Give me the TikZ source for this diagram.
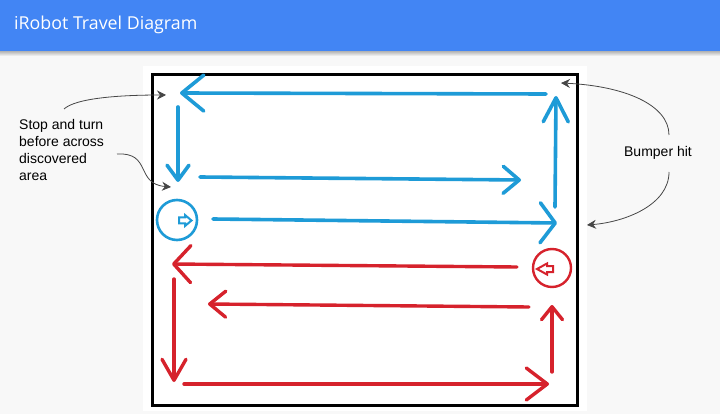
\documentclass[tikz,border=0pt]{standalone}
\usepackage{fontspec}
\setmainfont{Liberation Sans}
\newfontfamily\titlefont{Open Sans}
\usetikzlibrary{arrows.meta}
\definecolor{hdrblue}{RGB}{66,133,244}
\definecolor{pagebg}{RGB}{248,248,248}
\definecolor{pathblue}{RGB}{30,155,215}
\definecolor{pathred}{RGB}{214,34,44}
\definecolor{notegray}{RGB}{70,70,70}
\tikzset{
  bluepath/.style={draw=pathblue,line width=3.6pt,line cap=round,line join=round},
  redpath/.style={draw=pathred,line width=3.4pt,line cap=round,line join=round},
  hd/.style 2 args={-{Straight Barb[round,length=#1,width=#2]}},
  note/.style={draw=notegray,line width=0.8pt,-{Stealth[length=9pt,width=9pt,inset=3pt]}},
  notetext/.style={font=\fontsize{14}{17.2}\selectfont,text=black,align=left,inner sep=0pt},
}
\begin{document}
\begin{tikzpicture}[x=1pt,y=-1pt]
\useasboundingbox (0,0) rectangle (720,414);
\fill[pagebg] (0,0) rectangle (720,414);
% header
\shade[top color=black!30,bottom color=pagebg] (0,51) rectangle (720,56);
\fill[hdrblue] (0,0) rectangle (720,51);
\node[anchor=west,text=white,inner sep=0pt,font=\titlefont\fontsize{17.8}{21}\selectfont] (title) at (14,25) {iRobot Travel Diagram};
% picture area
\fill[white] (143,66) rectangle (587,411);
\draw[line width=3pt] (152.5,75) rectangle (577,405.5);
% blue path
\coordinate (b1s) at (546,94); \coordinate (b1e) at (180,93);
\coordinate (b2s) at (178,107); \coordinate (b2e) at (178,182);
\coordinate (b3s) at (200,177); \coordinate (b3e) at (521,180);
\coordinate (b4s) at (213,219); \coordinate (b4e) at (557,223);
\coordinate (b5s) at (555,207); \coordinate (b5e) at (556,96);
\draw[bluepath,hd={22pt}{36pt}] (b1s) -- (b1e);
\draw[bluepath,hd={15pt}{22pt}] (b2s) -- (b2e);
\draw[bluepath,hd={16pt}{27pt}] (b3s) -- (b3e);
\draw[bluepath,hd={15pt}{40pt}] (b4s) -- (b4e);
\draw[bluepath,hd={24pt}{25pt}] (b5s) -- (b5e);
\node[circle,draw=pathblue,line width=2.6pt,minimum size=40pt,inner sep=0pt] (bstart) at (177,220) {};
\draw[pathblue,line width=2pt,line join=miter] (179,217.5) -- (185,217.5) -- (185,215) -- (191.5,220.5) -- (185,226) -- (185,223.5) -- (179,223.5) -- cycle;
% red path
\coordinate (r1s) at (517,267); \coordinate (r1e) at (172,264);
\coordinate (r2s) at (529,307); \coordinate (r2e) at (208,304);
\coordinate (r3s) at (174,279); \coordinate (r3e) at (174,382);
\coordinate (r4s) at (184,384); \coordinate (r4e) at (549,384);
\coordinate (r5s) at (552,372); \coordinate (r5e) at (552,305);
\draw[redpath,hd={17pt}{37pt}] (r1s) -- (r1e);
\draw[redpath,hd={16pt}{26pt}] (r2s) -- (r2e);
\draw[redpath,hd={21pt}{24pt}] (r3s) -- (r3e);
\draw[redpath,hd={21pt}{32pt}] (r4s) -- (r4e);
\draw[redpath,hd={13pt}{21pt}] (r5s) -- (r5e);
\node[circle,draw=pathred,line width=2.4pt,minimum size=38pt,inner sep=0pt] (rstart) at (552,268) {};
\draw[pathred,line width=2pt,line join=miter] (553,266) -- (547,266) -- (547,263.5) -- (537,269) -- (547,274.5) -- (547,272) -- (553,272) -- cycle;
% annotations
\node[notetext,anchor=north west] (stoptxt) at (19,119) {Stop and turn\\before across\\discovered\\area};
\node[notetext] (bumptxt) at (658,153) {Bumper hit};
\coordinate (n1s) at (64,109); \coordinate (n1e) at (166,95);
\coordinate (n2s) at (117,154); \coordinate (n2e) at (171,187);
\coordinate (n3s) at (669,135); \coordinate (n3e) at (561,83);
\coordinate (n4s) at (669,172); \coordinate (n4e) at (587,225);
\draw[note] (n1s) .. controls (76,98) and (120,95) .. (n1e);
\draw[note] (n2s) .. controls (152,152) and (135,184) .. (n2e);
\draw[note] (n3s) .. controls (669,105) and (625,86) .. (n3e);
\draw[note] (n4s) .. controls (669,205) and (625,222) .. (n4e);
\end{tikzpicture}
\end{document}
